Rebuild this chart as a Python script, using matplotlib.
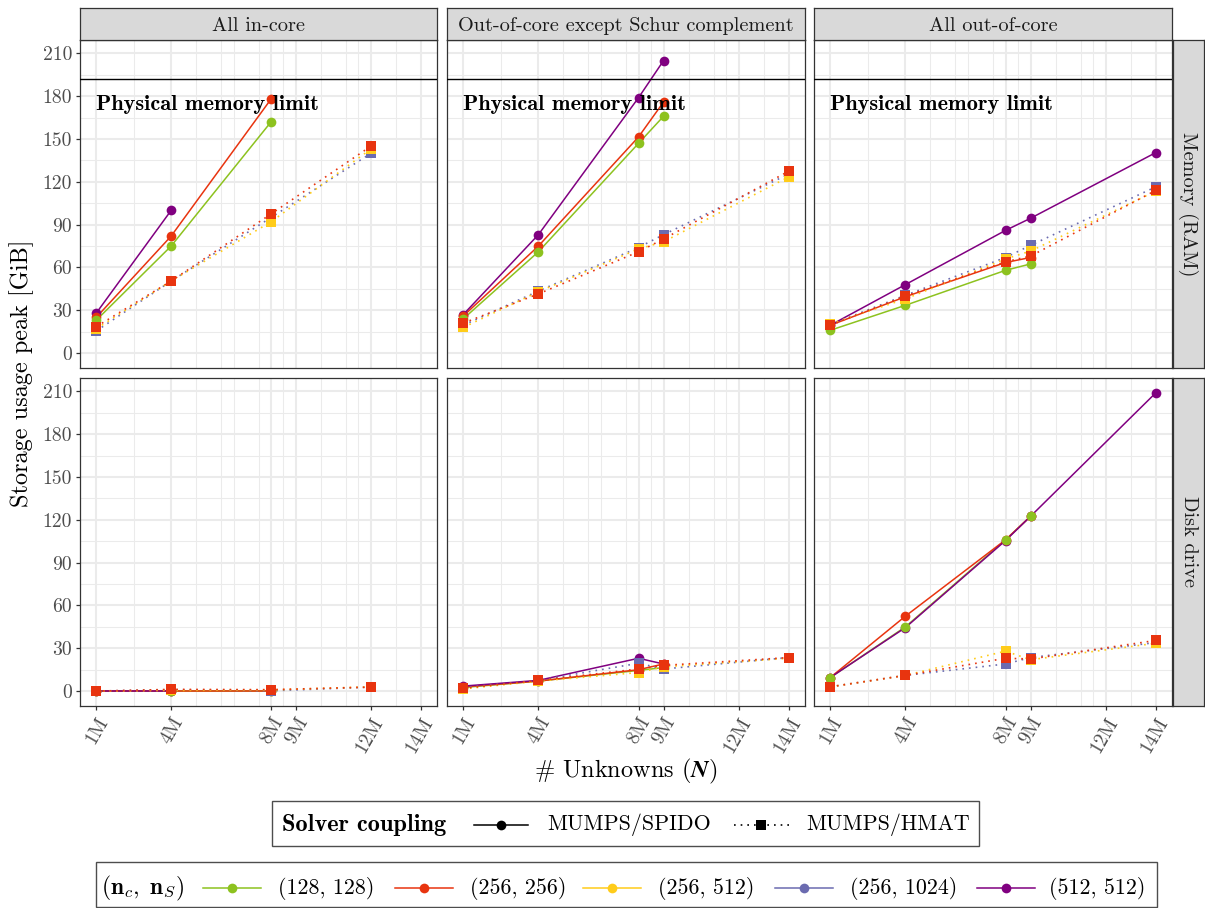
import matplotlib
matplotlib.use("Agg")
import matplotlib.pyplot as plt
from matplotlib.patches import Rectangle

plt.rcParams['font.family'] = ['cmr10', 'DejaVu Serif']
plt.rcParams['mathtext.fontset'] = 'cm'
plt.rcParams['axes.formatter.use_mathtext'] = True
plt.rcParams['axes.unicode_minus'] = False

# ---------------- data ----------------
COLUMNS = ["All in-core", "Out-of-core except Schur complement", "All out-of-core"]
ROWS = ["Memory (RAM)", "Disk drive"]
X_TICKS = [1, 4, 8, 9, 12, 14]
X_TICK_LABELS = ["1M", "4M", "8M", "9M", "12M", "14M"]
X_MINOR = [2.5, 5, 6, 6.5, 7.5, 8.5, 10, 11, 11.5, 13]
Y_TICKS = [0, 30, 60, 90, 120, 150, 180, 210]
Y_MINOR = [15, 45, 75, 105, 135, 165, 195]
MEMORY_LIMIT = 192

CONFIGS = ["(128, 128)", "(256, 256)", "(256, 512)", "(256, 1024)", "(512, 512)"]
COLORS = ["#8DC21F", "#E8340F", "#FFCC1A", "#6B6BB0", "#800080"]

# MUMPS/SPIDO (solid, circles): per panel {config: (N [M], GiB)}
spido_mem_incore = {
    "(128, 128)": ([1, 4, 8], [23, 75, 162]),
    "(256, 256)": ([1, 4, 8], [25, 82, 178]),
    "(512, 512)": ([1, 4], [28, 100]),
}
spido_mem_ooc_schur = {
    "(128, 128)": ([1, 4, 8, 9], [24, 71, 147, 166]),
    "(256, 256)": ([1, 4, 8, 9], [26, 75, 151.5, 176]),
    "(512, 512)": ([1, 4, 8, 9], [27, 83, 179, 205]),
}
spido_mem_ooc = {
    "(128, 128)": ([1, 4, 8, 9], [16, 33.5, 58, 62.5]),
    "(256, 256)": ([1, 4, 8, 9], [19.5, 39.5, 63.5, 67]),
    "(512, 512)": ([1, 4, 8, 9, 14], [19.5, 48, 86, 94.5, 140.5]),
}
spido_disk_incore = {
    "(128, 128)": ([1, 4, 8], [0, 0, 0]),
    "(256, 256)": ([1, 4, 8], [0, 0, 0]),
    "(512, 512)": ([1, 4], [0, 0]),
}
spido_disk_ooc_schur = {
    "(128, 128)": ([1, 4, 8, 9], [2.5, 7, 14.5, 16.5]),
    "(256, 256)": ([1, 4, 8, 9], [3, 7, 15, 19]),
    "(512, 512)": ([1, 4, 8, 9], [3.5, 7.5, 23, 19]),
}
spido_disk_ooc = {
    "(128, 128)": ([1, 4, 8, 9], [9.5, 45, 106, 122.5]),
    "(256, 256)": ([1, 4, 8, 9], [9.5, 52.5, 106, 122.5]),
    "(512, 512)": ([1, 4, 8, 9, 14], [9.5, 44.5, 105.5, 122.5, 209]),
}

# MUMPS/HMAT (dotted, squares)
hmat_mem_incore = {
    "(256, 1024)": ([1, 4, 8, 12], [15.5, 50.5, 95, 140]),
    "(256, 512)": ([1, 4, 8, 12], [17, 50.5, 92, 143]),
    "(256, 256)": ([1, 4, 8, 12], [18.5, 50.5, 97.5, 145]),
}
hmat_mem_ooc_schur = {
    "(256, 1024)": ([1, 4, 8, 9, 14], [19.5, 43.5, 74, 83, 125.5]),
    "(256, 512)": ([1, 4, 8, 9, 14], [18, 43, 73, 78, 123.5]),
    "(256, 256)": ([1, 4, 8, 9, 14], [21, 41.5, 71, 80, 127.5]),
}
hmat_mem_ooc = {
    "(256, 1024)": ([1, 4, 8, 9, 14], [20, 40.5, 67, 75.5, 116.5]),
    "(256, 512)": ([1, 4, 8, 9, 14], [20.5, 38, 66, 71.5, 113.5]),
    "(256, 256)": ([1, 4, 8, 9, 14], [19.5, 40, 64, 68, 114]),
}
hmat_disk_incore = {
    "(256, 1024)": ([1, 4, 8, 12], [0, 1, 0.2, 2.8]),
    "(256, 512)": ([1, 4, 8, 12], [0, 0.5, 0.8, 3]),
    "(256, 256)": ([1, 4, 8, 12], [0, 1.2, 1, 2.8]),
}
hmat_disk_ooc_schur = {
    "(256, 1024)": ([1, 4, 8, 9, 14], [2.5, 7.5, 19.5, 15.5, 23.5]),
    "(256, 512)": ([1, 4, 8, 9, 14], [1.5, 7, 13, 17, 23]),
    "(256, 256)": ([1, 4, 8, 9, 14], [2, 7.5, 15.5, 18, 23.5]),
}
hmat_disk_ooc = {
    "(256, 1024)": ([1, 4, 8, 9, 14], [3, 11, 19, 23.5, 34]),
    "(256, 512)": ([1, 4, 8, 9, 14], [3, 11, 28, 22, 33.5]),
    "(256, 256)": ([1, 4, 8, 9, 14], [3, 11, 23, 22.5, 35.5]),
}

SPIDO = [[spido_mem_incore, spido_mem_ooc_schur, spido_mem_ooc],
         [spido_disk_incore, spido_disk_ooc_schur, spido_disk_ooc]]
HMAT = [[hmat_mem_incore, hmat_mem_ooc_schur, hmat_mem_ooc],
        [hmat_disk_incore, hmat_disk_ooc_schur, hmat_disk_ooc]]

color_of = dict(zip(CONFIGS, COLORS))

# ---------------- layout ----------------
W, H = 1205, 908
fig = plt.figure(figsize=(W / 100, H / 100), dpi=100)


def px_axes(x0, y0, x1, y1, **kw):
    return fig.add_axes([x0 / W, 1 - y1 / H, (x1 - x0) / W, (y1 - y0) / H], **kw)


COL_X = [(80, 437), (447, 805), (814, 1172)]
ROW_Y = [(40, 368), (378, 706)]
DARK = "#333333"
GRID = "#EBEBEB"
STRIP = "#D9D9D9"

TICK_FS = 14.2
STRIP_FS = 14.6
TITLE_FS = 17.5
LEG_FS = 15.8

for r, (y0, y1) in enumerate(ROW_Y):
    for c, (x0, x1) in enumerate(COL_X):
        ax = px_axes(x0, y0, x1, y1)
        ax.set_xlim(0.35, 14.65)
        ax.set_ylim(-10.45, 219.45)
        for s in ax.spines.values():
            s.set_color(DARK)
            s.set_linewidth(0.9)
        ax.set_xticks(X_TICKS)
        ax.set_xticks(X_MINOR, minor=True)
        ax.set_yticks(Y_TICKS)
        ax.set_yticks(Y_MINOR, minor=True)
        ax.grid(True, which='major', color=GRID, lw=1.45, zorder=0)
        ax.grid(True, which='minor', color=GRID, lw=0.75, zorder=0)
        ax.set_axisbelow(True)
        ax.tick_params(which='minor', length=0)
        ax.tick_params(which='major', length=3.2, width=0.9, color=DARK,
                       labelcolor="#4D4D4D", labelsize=TICK_FS, pad=2.5)
        if c == 0:
            ax.set_yticklabels([str(v) for v in Y_TICKS])
        else:
            ax.tick_params(axis='y', which='major', length=0, labelleft=False)
        if r == 1:
            ax.set_xticklabels(X_TICK_LABELS, rotation=60, ha='right', va='top',
                               rotation_mode='anchor')
        else:
            ax.tick_params(axis='x', which='major', length=0, labelbottom=False)

        sp = SPIDO[r][c]
        hm = HMAT[r][c]
        # lines
        for cfg in ["(128, 128)", "(256, 256)", "(512, 512)"]:
            if cfg in sp:
                xs, ys = sp[cfg]
                ax.plot(xs, ys, color=color_of[cfg], lw=1.1, zorder=3,
                        solid_capstyle='butt')
        for cfg in ["(256, 1024)", "(256, 512)", "(256, 256)"]:
            if cfg in hm:
                xs, ys = hm[cfg]
                ax.plot(xs, ys, color=color_of[cfg], lw=1.2, ls=(0, (1, 3)),
                        zorder=3)
        # points
        for cfg in ["(512, 512)", "(256, 256)", "(128, 128)"]:
            if cfg in sp:
                xs, ys = sp[cfg]
                ax.plot(xs, ys, ls='none', marker='o', ms=7, mew=0,
                        color=color_of[cfg], zorder=4)
        for cfg in ["(256, 1024)", "(256, 512)", "(256, 256)"]:
            if cfg in hm:
                xs, ys = hm[cfg]
                ax.plot(xs, ys, ls='none', marker='s', ms=7, mew=0,
                        color=color_of[cfg], zorder=5)

        if r == 0:
            ax.axhline(MEMORY_LIMIT, color='black', lw=1.0, zorder=6)
            ax.text(1.0, 174.5, "Physical memory limit", family='cmb10',
                    fontsize=16.1, ha='left', va='center', zorder=7)

        # top strips
        if r == 0:
            sax = px_axes(x0, 8, x1, y0)
            sax.set_facecolor(STRIP)
            sax.set_xticks([]); sax.set_yticks([])
            for s in sax.spines.values():
                s.set_color(DARK); s.set_linewidth(0.9)
            sax.text(0.5, 0.45, COLUMNS[c], transform=sax.transAxes, ha='center',
                     va='center', fontsize=STRIP_FS, color="#1A1A1A")
    # right strips
    rax = px_axes(1173, y0, 1204, y1)
    rax.set_facecolor(STRIP)
    rax.set_xticks([]); rax.set_yticks([])
    for s in rax.spines.values():
        s.set_color(DARK); s.set_linewidth(0.9)
    rax.text(0.5, 0.5, ROWS[r], transform=rax.transAxes, ha='center', va='center',
             rotation=-90, fontsize=STRIP_FS, color="#1A1A1A")

# axis titles
fig.text(22 / W, 1 - 373 / H, "Storage usage peak [GiB]", rotation=90, ha='center',
         va='center', fontsize=TITLE_FS)
xl = fig.text(626 / W, 1 - 771 / H, r"# Unknowns ($\mathbfit{N}$)", ha='center',
              va='center', fontsize=TITLE_FS)
try:
    fig.canvas.draw()
except Exception:
    xl.set_text(r"# Unknowns ($N$)")

# ---------------- legends (overlay in pixel coords) ----------------
lax = fig.add_axes([0, 0, 1, 1])
lax.set_xlim(0, W)
lax.set_ylim(H, 0)
lax.axis('off')

LEG_EDGE = "#4D4D4D"
lax.add_patch(Rectangle((272, 801), 707, 45, fill=False, ec=LEG_EDGE, lw=1.0))
yc1 = 825
lax.text(282, yc1, "Solver coupling", family='cmb10', fontsize=17.5,
         ha='left', va='center')
lax.plot([474, 528], [yc1, yc1], color='black', lw=1.1)
lax.plot([501], [yc1], marker='o', ms=7, mew=0, color='black')
lax.text(547, yc1, "MUMPS/SPIDO", fontsize=LEG_FS, ha='left', va='center')
lax.plot([734, 789], [yc1, yc1], color='black', lw=1.2, ls=(0, (1, 3)))
lax.plot([761], [yc1], marker='s', ms=7, mew=0, color='black')
lax.text(806, yc1, "MUMPS/HMAT", fontsize=LEG_FS, ha='left', va='center')

lax.add_patch(Rectangle((96, 862), 1061, 45, fill=False, ec=LEG_EDGE, lw=1.0,
                        clip_on=False))
yc2 = 888
lax.text(101, yc2, r"$\mathbf{(n}_{c}\mathbf{,\ n}_{S}\mathbf{)}$", fontsize=LEG_FS + 1,
         ha='left', va='center')
key_x = [(203, 261), (395, 453), (583, 641), (775, 833), (977, 1035)]
lab_x = [278, 470, 658, 850, 1049]
for cfg, (k0, k1), lx in zip(CONFIGS, key_x, lab_x):
    col = color_of[cfg]
    lax.plot([k0, k1], [yc2, yc2], color=col, lw=1.1)
    lax.plot([(k0 + k1) / 2], [yc2], marker='o', ms=7, mew=0, color=col)
    lax.text(lx, yc2, cfg, fontsize=LEG_FS, ha='left', va='center')

fig.savefig("out.png", dpi=100)
